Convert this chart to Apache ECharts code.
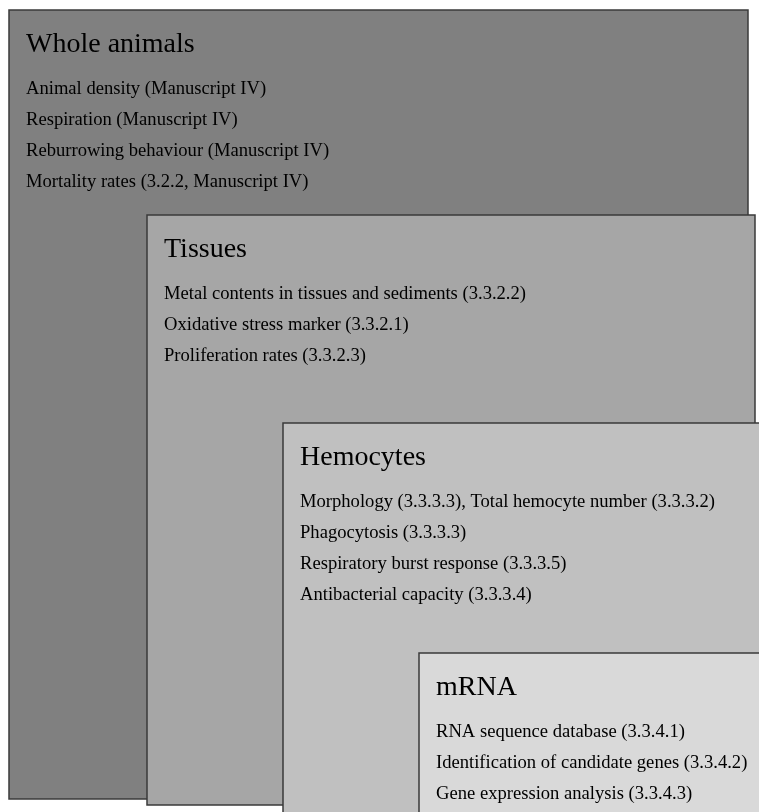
<!DOCTYPE html>
<html><head><meta charset="utf-8">
<script src="https://cdn.jsdelivr.net/npm/echarts@6/dist/echarts.min.js"></script>
<style>html,body{margin:0;padding:0;background:#fff}#c{width:759px;height:812px}</style>
</head><body><div id="c"></div>
<script>
const boxTitles = ['Whole animals', 'Tissues', 'Hemocytes', 'mRNA'];
const boxLeft = [9, 147, 283, 419];
const boxTop = [10, 215, 423, 653];
const boxRight = [748, 755, 770, 770];
const boxBottom = [799, 805, 820, 820];
const boxItems = [
  ['Animal density (Manuscript IV)', 'Respiration (Manuscript IV)', 'Reburrowing behaviour (Manuscript IV)', 'Mortality rates (3.2.2, Manuscript IV)'],
  ['Metal contents in tissues and sediments (3.3.2.2)', 'Oxidative stress marker (3.3.2.1)', 'Proliferation rates (3.3.2.3)'],
  ['Morphology (3.3.3.3), Total hemocyte number (3.3.3.2)', 'Phagocytosis (3.3.3.3)', 'Respiratory burst response (3.3.3.5)', 'Antibacterial capacity (3.3.3.4)'],
  ['RNA sequence database (3.3.4.1)', 'Identification of candidate genes (3.3.4.2)', 'Gene expression analysis (3.3.4.3)']
];
const fills = ['#808080', '#a6a6a6', '#c0c0c0', '#d9d9d9'];

const data = boxTitles.map((t, i) => [boxLeft[i], boxTop[i], boxRight[i], boxBottom[i], i]);
const chart = echarts.init(document.getElementById('c'), null, {renderer: 'canvas'});
const font = '"Liberation Serif","Times New Roman",serif';
chart.setOption({
  animation: false,
  grid: {left: 0, right: 0, top: 0, bottom: 0},
  xAxis: {type: 'value', min: 0, max: 759, show: false},
  yAxis: {type: 'value', min: 0, max: 812, inverse: true, show: false},
  series: [{
    type: 'custom',
    coordinateSystem: 'cartesian2d',
    data: data,
    renderItem: function (params, api) {
      const i = api.value(4);
      const p0 = api.coord([api.value(0), api.value(1)]);
      const p1 = api.coord([api.value(2), api.value(3)]);
      const children = [{
        type: 'rect',
        shape: {x: p0[0], y: p0[1], width: p1[0] - p0[0], height: p1[1] - p0[1]},
        style: {fill: fills[i], stroke: '#3a3a3a', lineWidth: 1.5},
        z2: 0
      }, {
        type: 'text',
        style: {x: p0[0] + 17, y: p0[1] + 35, text: boxTitles[i], fill: '#000', font: '28px ' + font, verticalAlign: 'middle'},
        z2: 1
      }];
      boxItems[i].forEach((s, k) => {
        children.push({
          type: 'text',
          style: {x: p0[0] + 17, y: p0[1] + 79 + k * 31, text: s, fill: '#000', font: '18.6px ' + font, verticalAlign: 'middle'},
          z2: 1
        });
      });
      return {type: 'group', children: children};
    }
  }]
});
</script></body></html>
